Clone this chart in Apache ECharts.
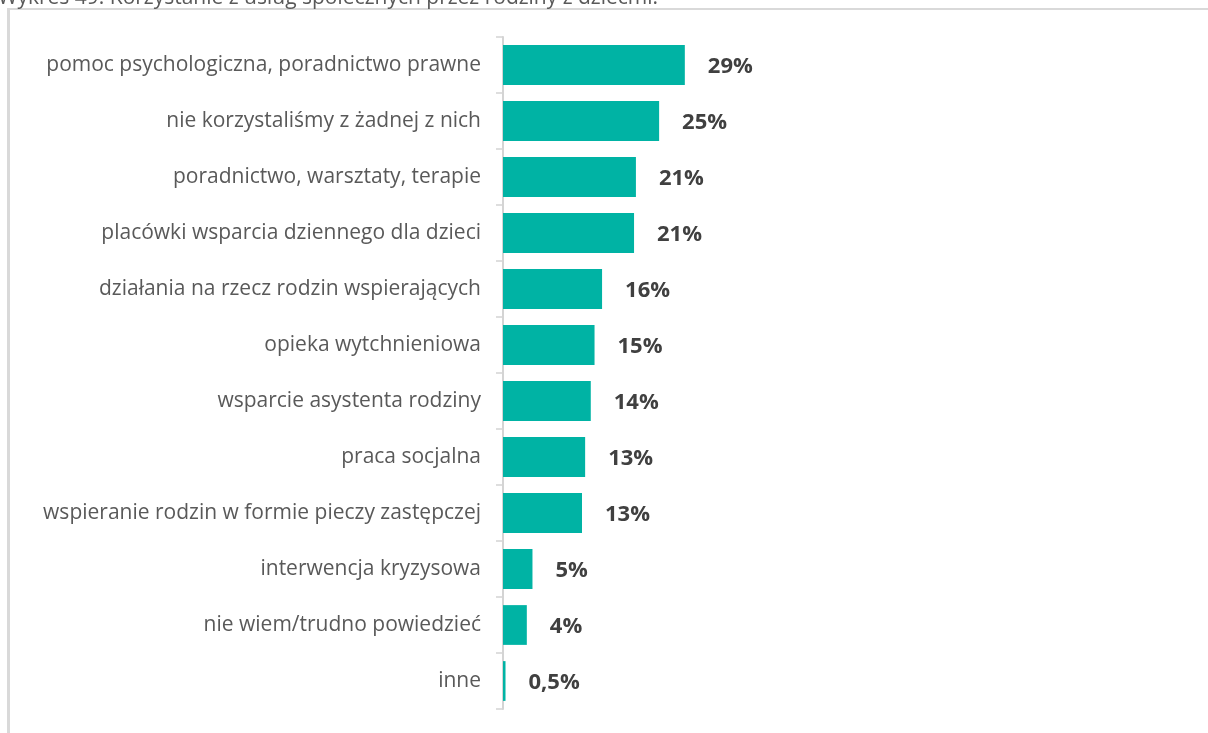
<!DOCTYPE html>
<html>
<head>
<meta charset="utf-8">
<script src="https://cdn.jsdelivr.net/npm/echarts@6/dist/echarts.min.js"></script>
<style>
html,body{margin:0;padding:0;background:#fff;}
#chart{width:1208px;height:733px;}
</style>
</head>
<body>
<div id="chart"></div>
<script>
const titleText = 'Wykres 49. Korzystanie z usług społecznych przez rodziny z dziećmi.';
const categories = [
  'pomoc psychologiczna, poradnictwo prawne',
  'nie korzystaliśmy z żadnej z nich',
  'poradnictwo, warsztaty, terapie',
  'placówki wsparcia dziennego dla dzieci',
  'działania na rzecz rodzin wspierających',
  'opieka wytchnieniowa',
  'wsparcie asystenta rodziny',
  'praca socjalna',
  'wspieranie rodzin w formie pieczy zastępczej',
  'interwencja kryzysowa',
  'nie wiem/trudno powiedzieć',
  'inne'
];
const values = [29.0, 24.9, 21.2, 20.9, 15.8, 14.6, 14.0, 13.1, 12.6, 4.7, 3.8, 0.4];
const valueLabels = ['29%', '25%', '21%', '21%', '16%', '15%', '14%', '13%', '13%', '5%', '4%', '0,5%'];

const chart = echarts.init(document.getElementById('chart'), null, {renderer: 'canvas'});
chart.setOption({
  backgroundColor: '#ffffff',
  animation: false,
  graphic: [
    {type: 'rect', shape: {x: 7, y: 8, width: 1201, height: 2}, style: {fill: '#d9d9d9'}, silent: true},
    {type: 'rect', shape: {x: 7, y: 8, width: 3, height: 725}, style: {fill: '#d9d9d9'}, silent: true},
    {type: 'text', style: {x: -2, y: 9, text: titleText, fill: '#595959',
      font: '21px "Open Sans", sans-serif', verticalAlign: 'bottom'}, silent: true}
  ],
  grid: {left: 503, width: 627, top: 37, bottom: 24, containLabel: false},
  xAxis: {type: 'value', min: 0, max: 100, show: false},
  yAxis: {
    type: 'category',
    inverse: true,
    data: categories,
    axisLine: {show: true, lineStyle: {color: '#d4d4d4', width: 2}},
    axisTick: {show: true, length: 7, lineStyle: {color: '#d4d4d4', width: 1.5}},
    axisLabel: {color: '#595959', fontSize: 21, fontFamily: '"Open Sans", sans-serif', margin: 22,
      padding: [4, 0, 0, 0]}
  },
  series: [{
    type: 'bar',
    data: values,
    barCategoryGap: '29%',
    itemStyle: {color: '#00b3a4'},
    label: {
      show: true,
      position: 'right',
      distance: 23,
      offset: [0, 2],
      formatter: p => valueLabels[p.dataIndex],
      color: '#404040',
      fontSize: 22,
      fontWeight: 'bold',
      fontFamily: '"Open Sans", sans-serif'
    }
  }]
});
</script>
</body>
</html>
